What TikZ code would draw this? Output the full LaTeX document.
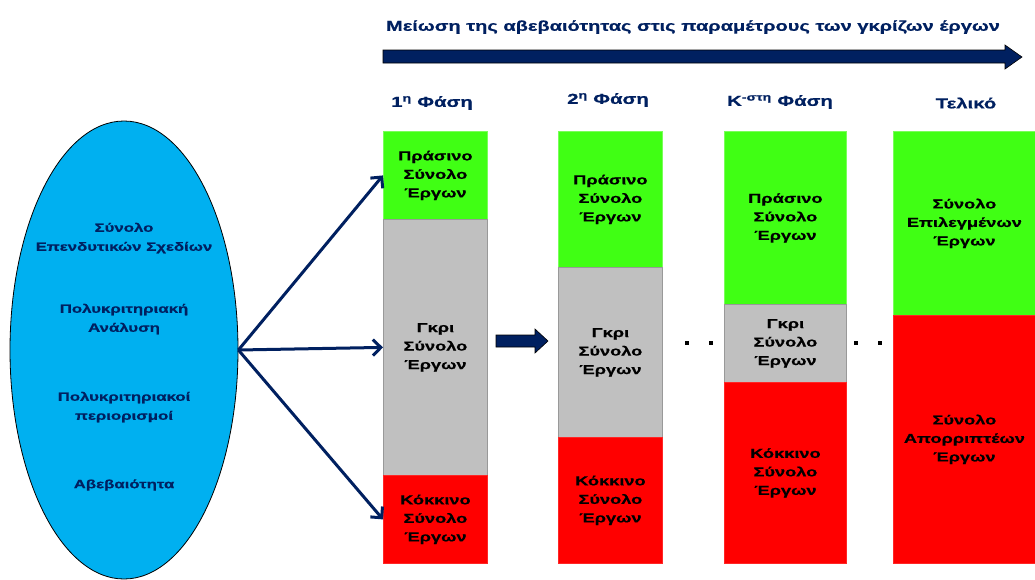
\documentclass[tikz,border=0pt]{standalone}
\usepackage{fontspec}
\usetikzlibrary{shapes.geometric,arrows.meta}
\setmainfont{Liberation Sans}
\newfontfamily\lbl[FakeStretch=1.4,BoldFeatures={FakeBold=0.6}]{Liberation Sans}
\definecolor{navy}{RGB}{0,32,96}
\definecolor{skyfill}{RGB}{0,176,240}
\definecolor{greenfill}{RGB}{64,255,20}
\definecolor{redfill}{RGB}{255,0,0}
\definecolor{grayfill}{RGB}{192,192,192}
\begin{document}
\begin{tikzpicture}[x=1pt,y=-1pt,
  box/.style={anchor=north west,inner sep=0pt,align=center,
    font=\lbl\bfseries\fontsize{13}{18.5}\selectfont,text=black},
  greenbox/.style={box,fill=greenfill,draw=greenfill!70!white,line width=0.8pt},
  graybox/.style={box,fill=grayfill,draw=black!40,line width=0.8pt},
  redbox/.style={box,fill=redfill,draw=redfill!85!white,line width=0.8pt},
  phase/.style={font=\lbl\bfseries\fontsize{14.5}{16}\selectfont,text=navy},
  elltext/.style={align=center,font=\lbl\bfseries\fontsize{12}{19}\selectfont,text=navy},
  link/.style={draw=navy,line width=3pt,-{Straight Barb[length=8pt,width=16pt,line width=3pt]}},
  blockarrow/.style={fill=navy,draw=black,line width=0.6pt},
  dot/.style={fill=black,minimum size=4pt,inner sep=0pt}]
\useasboundingbox (0,0) rectangle (1035,579);

% header: title and long block arrow
\node[font=\lbl\bfseries\fontsize{14.3}{16}\selectfont,text=navy] (title) at (693,27)
  {Μείωση της αβεβαιότητας στις παραμέτρους των γκρίζων έργων};
\draw[blockarrow] (383,50) -- (1005,50) -- (1005,45) -- (1022,57) -- (1005,69)
  -- (1005,63) -- (383,63) -- cycle;

% phase headings
\node[phase] (h1) at (432,103) {1\textsuperscript{η} Φάση};
\node[phase] (h2) at (608,100) {2\textsuperscript{η} Φάση};
\node[phase] (hk) at (780,102) {Κ\textsuperscript{-στη} Φάση};
\node[phase] (hf) at (966,103) {Τελικό};

% source ellipse
\node[ellipse,fill=skyfill,draw=black,line width=0.8pt,minimum width=228pt,
  minimum height=458pt,inner sep=0pt] (src) at (124,350) {};
\node[elltext] (e1) at (124,238) {Σύνολο\\Επενδυτικών Σχεδίων};
\node[elltext] (e2) at (124,319) {Πολυκριτηριακή\\Ανάλυση};
\node[elltext] (e3) at (124,407) {Πολυκριτηριακοί\\περιορισμοί};
\node[elltext] (e4) at (124,485) {Αβεβαιότητα};

% phase 1
\node[greenbox,minimum width=104pt,minimum height=88pt] (g1) at (383,131) {Πράσινο\\Σύνολο\\Έργων};
\node[graybox,minimum width=104pt,minimum height=256pt] (k1) at (383,219) {Γκρι\\Σύνολο\\Έργων};
\node[redbox,minimum width=104pt,minimum height=88pt] (r1) at (383,475) {Κόκκινο\\Σύνολο\\Έργων};

% phase 2
\node[greenbox,minimum width=104pt,minimum height=136pt] (g2) at (558,131) {Πράσινο\\Σύνολο\\Έργων};
\node[graybox,minimum width=104pt,minimum height=170pt] (k2) at (558,267) {Γκρι\\Σύνολο\\Έργων};
\node[redbox,minimum width=104pt,minimum height=126pt] (r2) at (558,437) {Κόκκινο\\Σύνολο\\Έργων};

% phase K
\node[greenbox,minimum width=122pt,minimum height=173pt] (gk) at (724,131) {Πράσινο\\Σύνολο\\Έργων};
\node[graybox,minimum width=122pt,minimum height=78pt] (kk) at (724,304) {Γκρι\\Σύνολο\\Έργων};
\node[redbox,minimum width=122pt,minimum height=181pt] (rk) at (724,382) {Κόκκινο\\Σύνολο\\Έργων};

% final
\node[greenbox,minimum width=142pt,minimum height=184pt] (gf) at (893,131) {Σύνολο\\Επιλεγμένων\\Έργων};
\node[redbox,minimum width=142pt,minimum height=248pt] (rf) at (893,315) {Σύνολο\\Απορριπτέων\\Έργων};

% links from the source set to the three subsets
\draw[link] (src.east) -- (g1.west);
\draw[link] (src.east) -- (k1.west);
\draw[link] (src.east) -- (r1.west);

% step arrow between phase 1 and phase 2
\draw[blockarrow] (496,335) -- (535,335) -- (535,329) -- (548,341) -- (535,353)
  -- (535,347) -- (496,347) -- cycle;

% ellipsis dots
\node[dot] (d1) at (687,343) {};
\node[dot] (d2) at (711,343) {};
\node[dot] (d3) at (856,343) {};
\node[dot] (d4) at (880,343) {};
\end{tikzpicture}
\end{document}
